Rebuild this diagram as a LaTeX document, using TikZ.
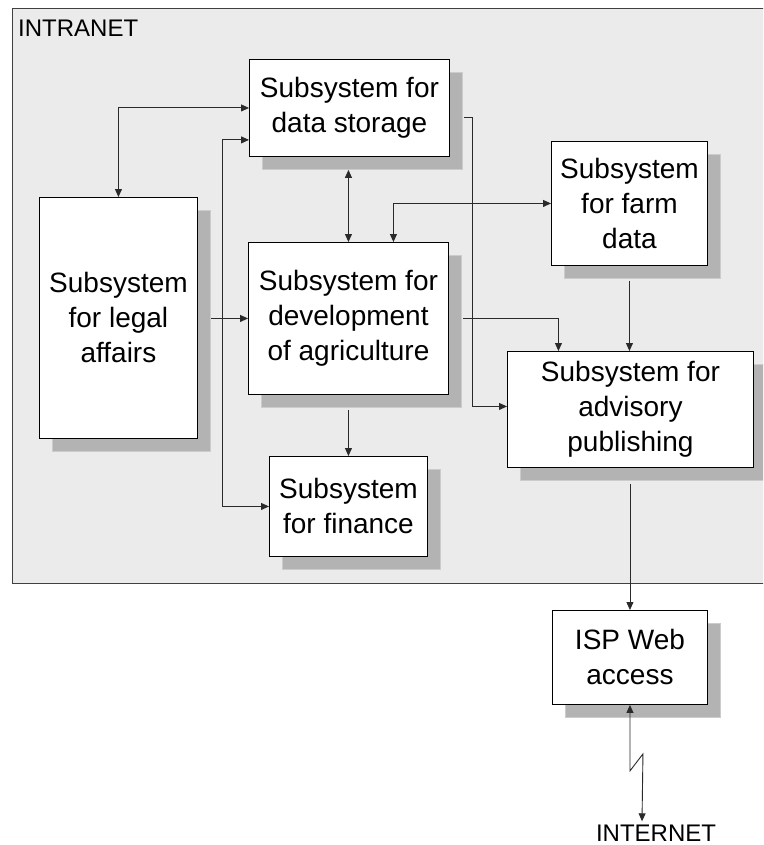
\documentclass[tikz,border=0pt]{standalone}
\usepackage{fontspec}
\setmainfont{Liberation Sans}
\usetikzlibrary{arrows.meta,calc,shadows}
\definecolor{bgray}{HTML}{EBEBEB}
\definecolor{frame}{HTML}{404040}
\definecolor{linec}{HTML}{2A2A2A}
\definecolor{shad}{HTML}{B3B3B3}
\begin{document}
\begin{tikzpicture}[x=1pt,y=-1pt,
  sysbox/.style={draw=black, line width=0.9pt, fill=white, anchor=north west,
    inner sep=0pt, align=center, font=\fontsize{28}{35}\selectfont,
    drop shadow={shadow xshift=13pt, shadow yshift=-13pt, fill=shad, draw=black!20, opacity=1}},
  conn/.style={draw=linec, line width=0.9pt},
  tip/.tip={Triangle[length=8pt,width=7pt]},
  lbl/.style={font=\fontsize{24}{28}\selectfont, inner sep=0pt}
]
\useasboundingbox (0,0) rectangle (763,845);
\clip (0,0) rectangle (763,845);
\fill[white] (0,0) rectangle (763,845);
% intranet frame (its right edge lies outside the picture)
\fill[bgray] (12,8) rectangle (770,583);
\draw[frame, line width=0.9pt] (770,8) -- (12,8) -- (12,583) -- (770,583);
\node[lbl, anchor=base west] (intranet) at (18,37) {INTRANET};

% boxes
\node[sysbox, minimum width=158pt, minimum height=241pt] (legal) at (39,197) {Subsystem\\for legal\\affairs};
\node[sysbox, minimum width=200pt, minimum height=97pt] (store) at (249,59) {Subsystem for\\data storage};
\node[sysbox, minimum width=200pt, minimum height=152pt] (dev) at (248,242) {Subsystem for\\development\\of agriculture};
\node[sysbox, minimum width=156pt, minimum height=124pt] (farm) at (551,141) {Subsystem\\for farm\\data};
\node[sysbox, minimum width=246pt, minimum height=116pt] (adv) at (507,351) {Subsystem for\\advisory\\publishing};
\node[sysbox, minimum width=158pt, minimum height=100pt] (fin) at (269,456) {Subsystem\\for finance};
\node[sysbox, minimum width=155pt, minimum height=94pt] (isp) at (552,610) {ISP Web\\access};
\node[lbl, anchor=base] (internet) at (656,841) {INTERNET};

% shadow edge coordinates
\coordinate (sleg) at ($(legal.east)+(13,0)$);
\coordinate (sstore) at ($(store.south)+(0,13)$);
\coordinate (sdev) at ($(dev.south)+(0,15)$);
\coordinate (sfarm) at ($(farm.south)+(0,15)$);
\coordinate (sadv) at ($(adv.south)+(0,16)$);

% connectors
\draw[conn, {tip}-{tip}] (legal.north) |- (store.west);
\draw[conn, {tip}-{tip}] ($(store.south west)+(0,-17)$) -- ++(-27,0) |- (fin.west);
\draw[conn, {tip}-{tip}] (dev.north |- sstore) -- (dev.north);
\draw[conn, {tip}-{tip}] (farm.west) -| ($(dev.north)+(45,0)$);
\draw[conn, -{tip}] (dev.west -| sleg) -- (dev.west);
\draw[conn, -{tip}] (fin.north |- sdev) -- (fin.north);
\draw[conn, -{tip}] ($(store.east)+(14,10)$) -- ++(9,0) |- ($(adv.west)+(0,-3)$);
\draw[conn, -{tip}] ($(dev.east)+(14,0)$) -| ($(adv.north)+(-72,0)$);
\draw[conn, -{tip}] (sfarm) -- (farm.south |- adv.north);
\draw[conn, -{tip}] (isp.north |- sadv) -- (isp.north);
\draw[conn, {tip}-{tip}] (isp.south) -- ++(0,66) -- ++(13,-17) -- ($(internet.north)+(-14,-3)$);
\end{tikzpicture}
\end{document}
